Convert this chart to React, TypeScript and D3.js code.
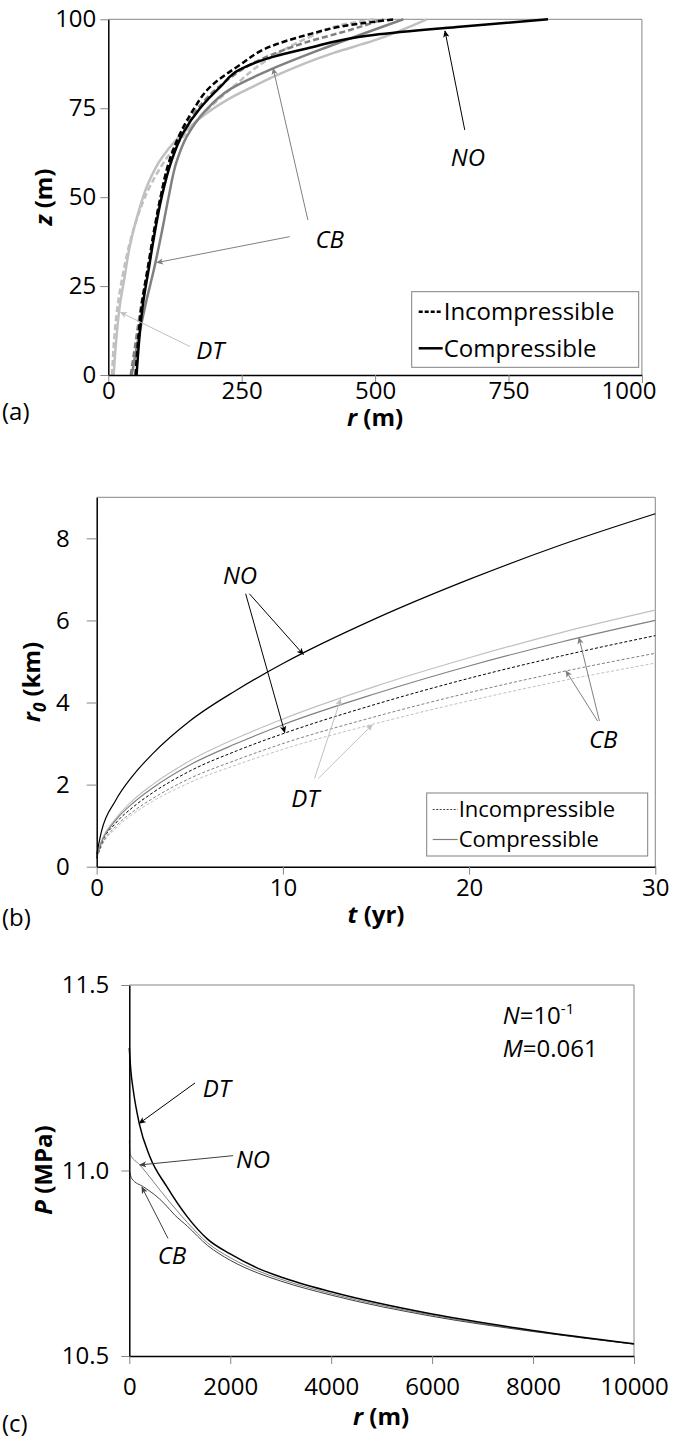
import React, { useEffect, useRef } from 'react';
import * as d3 from 'd3';

const FONT = "'Open Sans', sans-serif";
const BLACK = '#000000';
const DARK = '#808080';
const LIGHT = '#c0c0c0';
const DGREY = '#404040';
const AXIS_GREY = '#868686';

// ---------- (a) plume shape, pairs of [r (m), z (m)] ----------
const shapeNoComp = [[53, 0], [58, 10], [65, 20], [76, 30], [87, 40], [100, 50], [118, 60], [140, 68], [172, 75], [210, 81], [247, 85.9], [305, 89.3], [372, 91.8], [497, 95.6], [659, 97.9], [824, 100]];
const shapeNoInc = [[51, 0], [56, 10], [63, 20], [74, 30], [85, 40], [98, 50], [114, 60], [135, 68], [159, 74.5], [191, 81], [247, 87.2], [303, 92.3], [372, 95.6], [453, 98.4], [537, 100]];
const shapeCbComp = [[44, 0], [56, 10], [70, 20], [86, 30], [100, 40], [113, 50], [128, 60], [147, 67], [180, 74], [230, 80.5], [309, 86.2], [403, 91.8], [497, 97], [553, 100]];
const shapeCbInc = [[42, 0], [52, 10], [62, 20], [74, 30], [86, 40], [98, 50], [115, 60], [137, 68], [168, 75], [215, 82], [284, 88.6], [370, 93.5], [453, 97], [515, 100]];
const shapeDtComp = [[10, 0], [15, 10], [22, 20], [30, 27], [40, 36], [55, 45], [75, 54], [100, 61], [130, 66.5], [170, 72], [222, 77.3], [270, 81], [316, 84.3], [421, 90.5], [497, 94], [597, 100]];
const shapeDtInc = [[7, 0], [11, 10], [18, 20], [27, 28], [40, 37], [56, 45], [78, 53], [105, 60], [135, 66], [175, 73], [230, 80.5], [297, 88.5], [380, 95.2], [434, 98.3], [497, 100]];
const rTicksA = [0, 250, 500, 750, 1000];
const zTicksA = [0, 25, 50, 75, 100];

// ---------- (b) front radius r0 (km) against time t (yr) ----------
const tYears = [0, 0.25, 1, 2, 3, 5, 7.5, 10, 15, 20, 25, 30];
const r0NoComp = [0.3, 0.85, 1.6, 2.25, 2.75, 3.55, 4.3, 4.95, 6.05, 7.0, 7.85, 8.6];
const r0DtComp = [0.25, 0.62, 1.16, 1.64, 2.0, 2.58, 3.13, 3.6, 4.4, 5.09, 5.71, 6.25];
const r0CbComp = [0.25, 0.59, 1.12, 1.57, 1.92, 2.48, 3.0, 3.46, 4.22, 4.89, 5.48, 6.0];
const r0NoInc = [0.22, 0.56, 1.05, 1.47, 1.8, 2.33, 2.82, 3.24, 3.96, 4.59, 5.14, 5.63];
const r0CbInc = [0.2, 0.51, 0.97, 1.36, 1.66, 2.15, 2.6, 3.0, 3.66, 4.24, 4.75, 5.2];
const r0DtInc = [0.2, 0.49, 0.92, 1.3, 1.59, 2.05, 2.48, 2.86, 3.49, 4.04, 4.53, 4.96];
const tTicks = [0, 10, 20, 30];
const r0Ticks = [0, 2, 4, 6, 8];

// ---------- (c) pressure P (MPa) against r (m) ----------
const pDtR = [0, 30, 80, 200, 400, 750, 1150, 1550, 2000, 2540, 3000, 4000, 6000, 8000, 10000];
const pDt = [11.33, 11.27, 11.215, 11.125, 11.04, 10.955, 10.875, 10.815, 10.775, 10.737, 10.713, 10.673, 10.613, 10.569, 10.533];
const pNoR = [0, 15, 210, 740, 1150, 1550, 2000, 2540, 3000, 4000, 6000, 8000, 10000];
const pNo = [11.08, 11.045, 11.015, 10.925, 10.86, 10.805, 10.765, 10.73, 10.707, 10.668, 10.61, 10.567, 10.532];
const pCbR = [0, 50, 280, 500, 700, 900, 1150, 1550, 2000, 2540, 3000, 4000, 6000, 8000, 10000];
const pCb = [11.0, 10.978, 10.956, 10.935, 10.91, 10.88, 10.85, 10.798, 10.758, 10.724, 10.702, 10.664, 10.607, 10.566, 10.532];
const rTicksC = [0, 2000, 4000, 6000, 8000, 10000];
const pTicks = [10.5, 11.0, 11.5];

const zip = (xs, ys) => xs.map((v, i) => [v, ys[i]]);

const addMarker = (defs, id, color) => {
    defs.append('marker')
        .attr('id', id)
        .attr('viewBox', '0 0 10 10')
        .attr('refX', 9)
        .attr('refY', 5)
        .attr('markerWidth', 7)
        .attr('markerHeight', 7)
        .attr('markerUnits', 'userSpaceOnUse')
        .attr('orient', 'auto')
        .append('path')
        .attr('d', 'M0,0.5L10,5L0,9.5L2.5,5Z')
        .attr('fill', color);
};

const drawFrame = (svg, x, y) => {
    const [x0, x1] = x.range();
    const [y0, y1] = y.range();
    svg.append('path')
        .attr('d', `M${x0},${y1}H${x1}V${y0}`)
        .attr('fill', 'none')
        .attr('stroke', AXIS_GREY)
        .attr('stroke-width', 1);
};

const drawAxes = (svg, x, y, opt) => {
    const gx = svg.append('g')
        .attr('transform', `translate(0,${y.range()[0]})`)
        .call(d3.axisBottom(x).tickValues(opt.xTicks).tickSize(8).tickSizeOuter(0)
            .tickPadding(opt.xPad).tickFormat(d3.format('d')));
    const gy = svg.append('g')
        .attr('transform', `translate(${x.range()[0]},0)`)
        .call(d3.axisLeft(y).tickValues(opt.yTicks).tickSize(opt.yTick).tickSizeOuter(0)
            .tickPadding(opt.yPad).tickFormat(opt.yFmt));
    [gx, gy].forEach((g) => {
        g.select('.domain').attr('stroke', BLACK).attr('stroke-width', 1.5);
        g.selectAll('.tick line').attr('stroke', AXIS_GREY);
        g.selectAll('.tick text')
            .attr('font-family', FONT)
            .attr('font-size', 24)
            .attr('fill', BLACK);
    });
    // excel pulls the last x label back inside the chart edge
    if (opt.lastEnd) {
        gx.selectAll('.tick text')
            .filter((d) => d === opt.xTicks[opt.xTicks.length - 1])
            .attr('text-anchor', 'end')
            .attr('dx', opt.lastEnd);
    }
};

const drawSeries = (svg, line, series) => {
    series.forEach((s) => {
        svg.append('path')
            .datum(s.data)
            .attr('d', line)
            .attr('fill', 'none')
            .attr('stroke', s.color)
            .attr('stroke-width', s.width)
            .attr('stroke-dasharray', s.dash || null);
    });
};

// label in data units, arrows from a start point to a tip on a curve
const annotate = (svg, x, y, a) => {
    svg.append('text')
        .attr('x', x(a.at[0]))
        .attr('y', y(a.at[1]))
        .attr('dy', '0.35em')
        .attr('text-anchor', 'middle')
        .attr('font-family', FONT)
        .attr('font-style', 'italic')
        .attr('font-size', 24)
        .text(a.text);
    a.arrows.forEach(([from, to]) => {
        svg.append('line')
            .attr('x1', x(from[0]))
            .attr('y1', y(from[1]))
            .attr('x2', x(to[0]))
            .attr('y2', y(to[1]))
            .attr('stroke', a.color)
            .attr('stroke-width', 1)
            .attr('marker-end', `url(#${a.marker})`);
    });
};

const axisTitle = (svg, cx, cy, parts, rotate) => {
    const t = svg.append('text')
        .attr('transform', rotate ? `translate(${cx},${cy}) rotate(-90)` : `translate(${cx},${cy})`)
        .attr('text-anchor', 'middle')
        .attr('font-family', FONT)
        .attr('font-weight', 'bold')
        .attr('font-size', 24);
    parts.forEach((p) => {
        t.append('tspan')
            .attr('font-style', p.italic ? 'italic' : null)
            .attr('font-size', p.size || null)
            .attr('dy', p.dy || null)
            .text(p.text);
    });
};

const panelLabel = (svg, x, yy, text) => {
    svg.append('text')
        .attr('x', x)
        .attr('y', yy)
        .attr('font-family', FONT)
        .attr('font-size', 24)
        .text(text);
};

const legend = (svg, box, rows) => {
    svg.append('rect')
        .attr('x', box.x)
        .attr('y', box.y)
        .attr('width', box.w)
        .attr('height', box.h)
        .attr('fill', '#fff')
        .attr('stroke', DARK)
        .attr('stroke-width', 1);
    rows.forEach((r, i) => {
        const cy = box.y + box.first + i * box.step;
        svg.append('line')
            .attr('x1', box.x + box.lineFrom)
            .attr('x2', box.x + box.lineTo)
            .attr('y1', cy)
            .attr('y2', cy)
            .attr('stroke', r.color)
            .attr('stroke-width', r.width)
            .attr('stroke-dasharray', r.dash || null);
        svg.append('text')
            .attr('x', box.x + box.lineTo + 1)
            .attr('y', cy)
            .attr('dy', '0.35em')
            .attr('font-family', FONT)
            .attr('font-size', box.font)
            .text(r.text);
    });
};

const drawPanelA = (svg) => {
    const x = d3.scaleLinear().domain([0, 1000]).range([108.3, 641.9]);
    const y = d3.scaleLinear().domain([0, 100]).range([375, 19.3]);
    drawFrame(svg, x, y);
    const line = d3.line().x((d) => x(d[0])).y((d) => y(d[1])).curve(d3.curveMonotoneY);
    drawSeries(svg, line, [
        { data: shapeDtComp, color: LIGHT, width: 2.5 },
        { data: shapeDtInc, color: LIGHT, width: 2.5, dash: '6,3' },
        { data: shapeCbComp, color: DARK, width: 2.5 },
        { data: shapeCbInc, color: DARK, width: 2.5, dash: '6,3' },
        { data: shapeNoComp, color: BLACK, width: 2.5 },
        { data: shapeNoInc, color: BLACK, width: 2.5, dash: '6,3' },
    ]);
    drawAxes(svg, x, y, {
        xTicks: rTicksA, xPad: -1, yTicks: zTicksA, yTick: 8, yPad: 4, yFmt: d3.format('d'), lastEnd: 14,
    });
    annotate(svg, x, y, {
        text: 'NO', at: [674, 61], color: BLACK, marker: 'arr-black',
        arrows: [[[668, 68.9], [631, 96.7]]],
    });
    annotate(svg, x, y, {
        text: 'CB', at: [415, 38], color: DARK, marker: 'arr-dark',
        arrows: [[[374, 43.6], [309, 86.2]], [[340, 38.9], [91, 31.6]]],
    });
    annotate(svg, x, y, {
        text: 'DT', at: [191, 7], color: LIGHT, marker: 'arr-light',
        arrows: [[[153, 8], [23, 17.6]]],
    });
    legend(svg, {
        x: 411.7, y: 291.7, w: 227, h: 75.6, first: 20, step: 36.6, lineFrom: 7, lineTo: 31, font: 24,
    }, [
        { text: 'Incompressible', color: BLACK, width: 2.5, dash: '4,2' },
        { text: 'Compressible', color: BLACK, width: 2.5 },
    ]);
    axisTitle(svg, 375, 426, [{ text: 'r', italic: true }, { text: ' (m)' }], false);
    axisTitle(svg, 52, 197, [{ text: 'z', italic: true }, { text: ' (m)' }], true);
    panelLabel(svg, 2, 420, '(a)');
};

const drawPanelB = (svg) => {
    const x = d3.scaleLinear().domain([0, 30]).range([96.7, 655.3]);
    const y = d3.scaleLinear().domain([0, 9]).range([866.7, 497.3]);
    drawFrame(svg, x, y);
    const line = d3.line().x((d) => x(d[0])).y((d) => y(d[1])).curve(d3.curveMonotoneX);
    drawSeries(svg, line, [
        { data: zip(tYears, r0DtInc), color: LIGHT, width: 1, dash: '3,2' },
        { data: zip(tYears, r0CbInc), color: DARK, width: 1, dash: '3,2' },
        { data: zip(tYears, r0NoInc), color: BLACK, width: 1, dash: '3,2' },
        { data: zip(tYears, r0DtComp), color: LIGHT, width: 1.2 },
        { data: zip(tYears, r0CbComp), color: DARK, width: 1.2 },
        { data: zip(tYears, r0NoComp), color: BLACK, width: 1.2 },
    ]);
    drawAxes(svg, x, y, {
        xTicks: tTicks, xPad: 4, yTicks: r0Ticks, yTick: 10, yPad: 17, yFmt: d3.format('d'),
    });
    annotate(svg, x, y, {
        text: 'NO', at: [7.7, 7.1], color: BLACK, marker: 'arr-black',
        arrows: [[[8.2, 6.65], [11.1, 5.17]], [[8.0, 6.65], [10.1, 3.27]]],
    });
    annotate(svg, x, y, {
        text: 'DT', at: [11.2, 1.67], color: LIGHT, marker: 'arr-light',
        arrows: [[[11.7, 2.15], [13.1, 4.08]], [[11.9, 2.15], [14.8, 3.46]]],
    });
    annotate(svg, x, y, {
        text: 'CB', at: [27.2, 3.1], color: DARK, marker: 'arr-dark',
        arrows: [[[27.0, 3.55], [25.9, 5.58]], [[26.9, 3.55], [25.2, 4.77]]],
    });
    legend(svg, {
        x: 426.7, y: 793, w: 221, h: 63, first: 16.5, step: 30, lineFrom: 6, lineTo: 31, font: 22,
    }, [
        { text: 'Incompressible', color: DGREY, width: 1, dash: '2,1.5' },
        { text: 'Compressible', color: DARK, width: 1.2 },
    ]);
    axisTitle(svg, 376, 923, [{ text: 't', italic: true }, { text: ' (yr)' }], false);
    axisTitle(svg, 40, 682, [
        { text: 'r', italic: true },
        { text: '0', italic: true, size: 17, dy: 6 },
        { text: ' (km)', dy: -6 },
    ], true);
    panelLabel(svg, 2, 926, '(b)');
};

const drawPanelC = (svg) => {
    const x = d3.scaleLinear().domain([0, 10000]).range([129.3, 634]);
    const y = d3.scaleLinear().domain([10.5, 11.5]).range([1356, 985]);
    drawFrame(svg, x, y);
    const line = d3.line().x((d) => x(d[0])).y((d) => y(d[1])).curve(d3.curveMonotoneX);
    drawSeries(svg, line, [
        { data: zip(pNoR, pNo), color: DARK, width: 1 },
        { data: zip(pCbR, pCb), color: DGREY, width: 1 },
        { data: zip(pDtR, pDt), color: BLACK, width: 1.5 },
    ]);
    drawAxes(svg, x, y, {
        xTicks: rTicksC, xPad: 14, yTicks: pTicks, yTick: 8, yPad: 12, yFmt: d3.format('.1f'),
    });
    annotate(svg, x, y, {
        text: 'DT', at: [1732, 11.222], color: BLACK, marker: 'arr-black',
        arrows: [[[1302, 11.236], [198, 11.127]]],
    });
    annotate(svg, x, y, {
        text: 'NO', at: [2451, 11.03], color: DGREY, marker: 'arr-dgrey',
        arrows: [[[2055, 11.04], [210, 11.015]]],
    });
    annotate(svg, x, y, {
        text: 'CB', at: [846, 10.77], color: DGREY, marker: 'arr-dgrey',
        arrows: [[[767, 10.817], [250, 10.955]]],
    });
    // parameter note in the upper right
    const note = svg.append('text')
        .attr('x', x(7400))
        .attr('y', y(11.395))
        .attr('font-family', FONT)
        .attr('font-size', 24);
    note.append('tspan').attr('font-style', 'italic').text('N');
    note.append('tspan').text('=10');
    note.append('tspan').attr('font-size', 15).attr('dy', -10).text('-1');
    const note2 = svg.append('text')
        .attr('x', x(7400))
        .attr('y', y(11.305))
        .attr('font-family', FONT)
        .attr('font-size', 24);
    note2.append('tspan').attr('font-style', 'italic').text('M');
    note2.append('tspan').text('=0.061');
    axisTitle(svg, 381, 1425, [{ text: 'r', italic: true }, { text: ' (m)' }], false);
    axisTitle(svg, 52, 1170, [{ text: 'P', italic: true }, { text: ' (MPa)' }], true);
    panelLabel(svg, 2, 1432, '(c)');
};

const App = () => {
    const ref = useRef(null);

    useEffect(() => {
        const svg = d3.select(ref.current);
        svg.selectAll('*').remove();
        const defs = svg.append('defs');
        addMarker(defs, 'arr-black', BLACK);
        addMarker(defs, 'arr-dark', DARK);
        addMarker(defs, 'arr-light', LIGHT);
        addMarker(defs, 'arr-dgrey', DGREY);
        drawPanelA(svg);
        drawPanelB(svg);
        drawPanelC(svg);
    }, []);

    return (
        <svg
            ref={ref}
            width={673}
            height={1441}
            style={{ position: 'absolute', left: 0, top: 0, background: '#fff' }}
        />
    );
};

export default App;
